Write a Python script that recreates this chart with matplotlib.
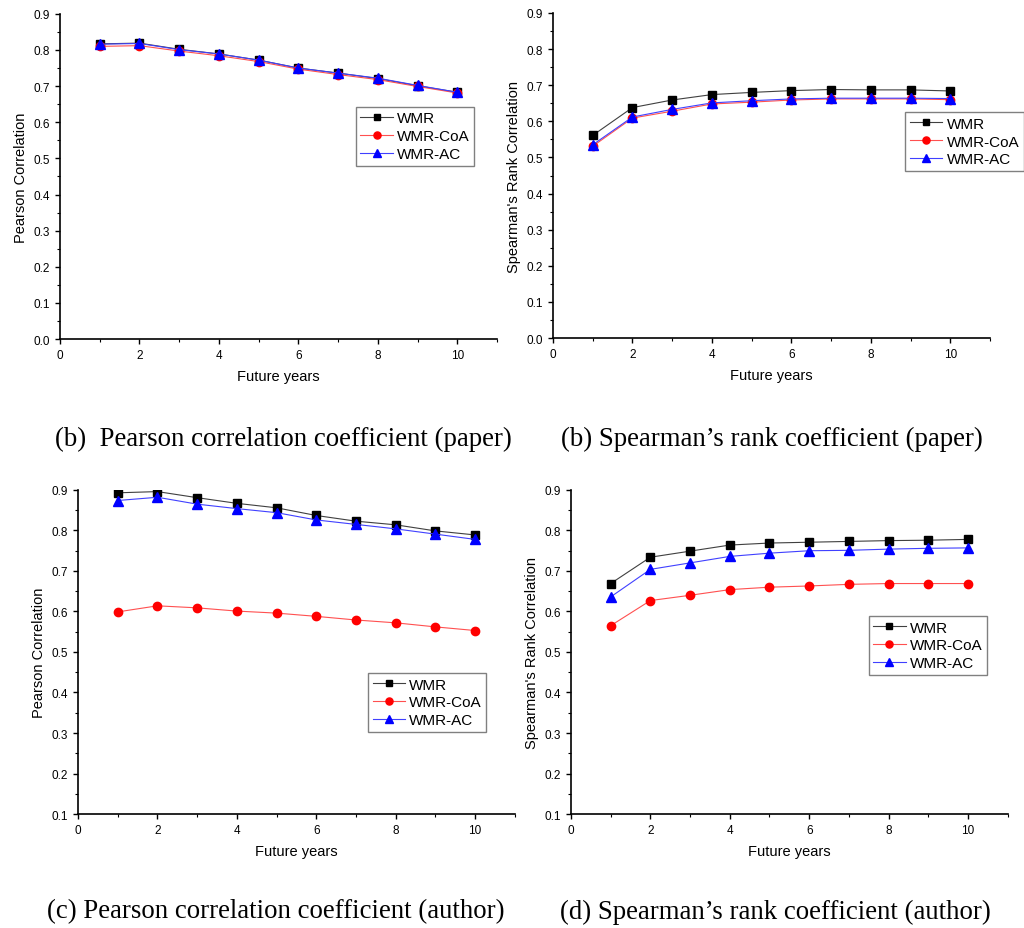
import matplotlib
matplotlib.use("Agg")
import matplotlib.pyplot as plt
from matplotlib.ticker import MultipleLocator

plt.rcParams["font.family"] = ["Liberation Sans", "DejaVu Sans"]

years = [1, 2, 3, 4, 5, 6, 7, 8, 9, 10]
labels = ["WMR", "WMR-CoA", "WMR-AC"]

# (a) Pearson, paper
pear_paper_wmr = [0.817, 0.819, 0.802, 0.789, 0.772, 0.750, 0.736, 0.721, 0.701, 0.683]
pear_paper_coa = [0.810, 0.812, 0.797, 0.784, 0.768, 0.747, 0.732, 0.718, 0.699, 0.681]
pear_paper_ac = [0.816, 0.818, 0.801, 0.789, 0.772, 0.750, 0.736, 0.722, 0.702, 0.683]

# (b) Spearman, paper
spear_paper_wmr = [0.561, 0.638, 0.659, 0.674, 0.680, 0.685, 0.688, 0.687, 0.687, 0.684]
spear_paper_coa = [0.531, 0.609, 0.628, 0.648, 0.653, 0.659, 0.662, 0.662, 0.662, 0.660]
spear_paper_ac = [0.535, 0.612, 0.633, 0.651, 0.657, 0.662, 0.664, 0.664, 0.664, 0.663]

# (c) Pearson, author
pear_auth_wmr = [0.893, 0.896, 0.881, 0.867, 0.856, 0.837, 0.823, 0.814, 0.799, 0.789]
pear_auth_coa = [0.599, 0.614, 0.609, 0.601, 0.596, 0.588, 0.579, 0.572, 0.562, 0.553]
pear_auth_ac = [0.874, 0.882, 0.865, 0.854, 0.844, 0.826, 0.815, 0.804, 0.791, 0.778]

# (d) Spearman, author
spear_auth_wmr = [0.669, 0.734, 0.749, 0.764, 0.769, 0.771, 0.773, 0.775, 0.776, 0.778]
spear_auth_coa = [0.565, 0.627, 0.640, 0.654, 0.660, 0.663, 0.667, 0.669, 0.669, 0.669]
spear_auth_ac = [0.636, 0.704, 0.720, 0.736, 0.744, 0.750, 0.751, 0.754, 0.756, 0.757]

captions = [
    "(b)  Pearson correlation coefficient (paper)",
    "(b) Spearman\u2019s rank coefficient (paper)",
    "(c) Pearson correlation coefficient (author)",
    "(d) Spearman\u2019s rank coefficient (author)",
]

fig = plt.figure(figsize=(10.24, 9.29), dpi=100)

# left, bottom, width, height in figure fractions
panels = [
    dict(rect=[0.0586, 0.634, 0.4268, 0.350], series=(pear_paper_wmr, pear_paper_coa, pear_paper_ac),
         ylabel="Pearson Correlation", ylim=(0.0, 0.9), leg=(0.677, 0.714)),
    dict(rect=[0.540, 0.635, 0.4268, 0.350], series=(spear_paper_wmr, spear_paper_coa, spear_paper_ac),
         ylabel="Spearman's Rank Correlation", ylim=(0.0, 0.9), leg=(0.806, 0.695)),
    dict(rect=[0.0762, 0.1227, 0.4265, 0.3488], series=(pear_auth_wmr, pear_auth_coa, pear_auth_ac),
         ylabel="Pearson Correlation", ylim=(0.1, 0.9), leg=(0.664, 0.435)),
    dict(rect=[0.5576, 0.1227, 0.4265, 0.3488], series=(spear_auth_wmr, spear_auth_coa, spear_auth_ac),
         ylabel="Spearman's Rank Correlation", ylim=(0.1, 0.9), leg=(0.682, 0.611)),
]

styles = [
    dict(color="#404040", marker="s", mfc="black", mec="black", ms=5.5),
    dict(color="#ff5050", marker="o", mfc="red", mec="red", ms=6),
    dict(color="#4040ff", marker="^", mfc="blue", mec="blue", ms=6.5),
]

for p in panels:
    ax = fig.add_axes(p["rect"])
    for vals, lab, st in zip(p["series"], labels, styles):
        ax.plot(years, vals, label=lab, lw=0.8, **st)
    ax.set_xlim(0, 11)
    ax.set_ylim(*p["ylim"])
    ax.spines["top"].set_visible(False)
    ax.spines["right"].set_visible(False)
    ax.spines["left"].set_linewidth(1.2)
    ax.spines["bottom"].set_linewidth(1.2)
    ax.xaxis.set_major_locator(MultipleLocator(2))
    ax.xaxis.set_minor_locator(MultipleLocator(1))
    ax.yaxis.set_major_locator(MultipleLocator(0.1))
    ax.yaxis.set_minor_locator(MultipleLocator(0.05))
    ax.yaxis.set_major_formatter(plt.FuncFormatter(lambda v, pos: f"{v:.1f}"))
    ax.tick_params(which="major", direction="out", length=3.5, width=1, labelsize=8.5, colors="black")
    ax.tick_params(which="minor", direction="out", length=2, width=0.8)
    ax.set_xlabel("Future years", fontsize=10.5, labelpad=6)
    ax.set_ylabel(p["ylabel"], fontsize=10.5, labelpad=4)
    leg = ax.legend(loc="upper left", bbox_to_anchor=p["leg"], fontsize=11, frameon=True,
                    fancybox=False, framealpha=1, edgecolor="#808080", borderaxespad=0,
                    borderpad=0.3, labelspacing=0.25, handlelength=2.1, handletextpad=0.3,
                    markerscale=0.85)
    leg.get_frame().set_linewidth(1.0)

cap_kw = dict(ha="center", va="center", fontsize=19.3, family="Liberation Serif")
fig.text(283 / 1024, 1 - 439 / 929, captions[0], **cap_kw)
fig.text(772 / 1024, 1 - 439 / 929, captions[1], **cap_kw)
fig.text(276 / 1024, 1 - 912 / 929, captions[2], **cap_kw)
fig.text(775 / 1024, 1 - 912 / 929, captions[3], **cap_kw)

fig.savefig("out.png", dpi=100)
